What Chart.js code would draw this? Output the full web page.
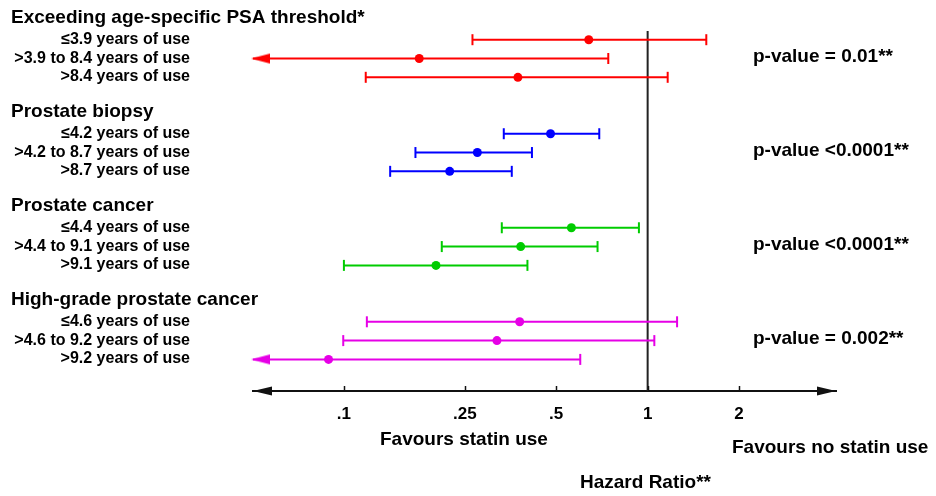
<!DOCTYPE html>
<html>
<head>
<meta charset="utf-8">
<script src="https://cdn.jsdelivr.net/npm/chart.js@4/dist/chart.umd.min.js"></script>
<style>
html, body { margin: 0; background: #fff; }
#wrap { width: 936px; height: 496px; }
</style>
</head>
<body>
<div id="wrap"><canvas id="forest"></canvas></div>
<script>
// groups, rows and values (hazard ratio, 95% CI)
const groups = ['Exceeding age-specific PSA threshold*', 'Prostate biopsy', 'Prostate cancer', 'High-grade prostate cancer'];
const rowLabels = [
    ['≤3.9 years of use', '>3.9 to 8.4 years of use', '>8.4 years of use'],
    ['≤4.2 years of use', '>4.2 to 8.7 years of use', '>8.7 years of use'],
    ['≤4.4 years of use', '>4.4 to 9.1 years of use', '>9.1 years of use'],
    ['≤4.6 years of use', '>4.6 to 9.2 years of use', '>9.2 years of use']
];
const hazardRatio = [[0.64, 0.177, 0.374], [0.479, 0.275, 0.223], [0.561, 0.382, 0.201], [0.379, 0.319, 0.089]];
// null = lower limit runs off the left end of the axis (drawn as an arrow)
const ciLower = [[0.265, null, 0.118], [0.336, 0.172, 0.142], [0.331, 0.21, 0.100], [0.119, 0.0995, null]];
const ciUpper = [[1.56, 0.742, 1.164], [0.693, 0.416, 0.357], [0.936, 0.684, 0.402], [1.25, 1.052, 0.60]];
const pValues = ['p-value = 0.01**', 'p-value <0.0001**', 'p-value <0.0001**', 'p-value = 0.002**'];
const colors = ['#ff0000', '#0000ff', '#00cc00', '#e600e6'];
const xTicks = [0.1, 0.25, 0.5, 1, 2];
const xTickLabels = ['.1', '.25', '.5', '1', '2'];

const X_MIN = 0.0502, X_MAX = 4.17;
const Y_MIN = -1.473, Y_MAX = 18.68;
const FONT = '"Liberation Sans", Arial, sans-serif';

const rowY = (g, r) => g * 5 + r;

function mkArrow(color) {
    // left-pointing arrow head, tip slightly left of the image centre
    const c = document.createElement('canvas');
    c.width = 44; c.height = 12;
    const ctx = c.getContext('2d');
    ctx.fillStyle = color;
    ctx.beginPath();
    ctx.moveTo(20, 6);
    ctx.lineTo(39, 1);
    ctx.lineTo(39, 11);
    ctx.closePath();
    ctx.fill();
    return c;
}

const datasets = [];
groups.forEach((_, g) => {
    const arrow = mkArrow(colors[g]);
    rowLabels[g].forEach((_, r) => {
        const y = rowY(g, r);
        const lo = ciLower[g][r];
        datasets.push({
            type: 'scatter', showLine: true,
            data: [{ x: lo === null ? X_MIN : lo, y }, { x: ciUpper[g][r], y }],
            borderColor: colors[g], borderWidth: 2,
            pointStyle: [lo === null ? arrow : 'line', 'line'],
            rotation: [lo === null ? 0 : 90, 90],
            pointRadius: 5.5, pointBorderWidth: 2,
            pointBorderColor: colors[g], pointBackgroundColor: colors[g],
            clip: false
        });
    });
    datasets.push({
        type: 'scatter',
        data: hazardRatio[g].map((v, r) => ({ x: v, y: rowY(g, r) })),
        pointStyle: 'circle', pointRadius: 4.5, pointBorderWidth: 0,
        backgroundColor: colors[g], borderColor: colors[g]
    });
});
// line of no effect
datasets.push({
    type: 'scatter', showLine: true,
    data: [{ x: 1, y: -0.46 }, { x: 1, y: Y_MAX }],
    borderColor: '#222', borderWidth: 2, pointRadius: 0
});

const textPlugin = {
    id: 'forestText',
    afterDraw(chart) {
        const ctx = chart.ctx, xs = chart.scales.x, ys = chart.scales.y, area = chart.chartArea;
        const axY = area.bottom;
        ctx.save();
        ctx.fillStyle = '#000';
        ctx.textBaseline = 'alphabetic';

        groups.forEach((name, g) => {
            ctx.font = 'bold 19px ' + FONT;
            ctx.textAlign = 'left';
            ctx.fillText(name, 11, ys.getPixelForValue(rowY(g, 0)) - 17);
            ctx.font = 'bold 16px ' + FONT;
            ctx.textAlign = 'right';
            rowLabels[g].forEach((lab, r) => ctx.fillText(lab, 190, ys.getPixelForValue(rowY(g, r)) + 4));
            ctx.font = 'bold 19px ' + FONT;
            ctx.textAlign = 'left';
            ctx.fillText(pValues[g], 753, ys.getPixelForValue(rowY(g, 1)) + 3.5);
        });

        // axis arrow heads and tick marks above the axis
        ctx.fillStyle = '#111';
        ctx.beginPath();
        ctx.moveTo(area.left, axY); ctx.lineTo(area.left + 19, axY - 4.5); ctx.lineTo(area.left + 19, axY + 4.5);
        ctx.closePath(); ctx.fill();
        ctx.beginPath();
        ctx.moveTo(area.right, axY); ctx.lineTo(area.right - 19, axY - 4.5); ctx.lineTo(area.right - 19, axY + 4.5);
        ctx.closePath(); ctx.fill();
        ctx.strokeStyle = '#111'; ctx.lineWidth = 1.5;
        xTicks.forEach(v => {
            const px = Math.round(xs.getPixelForValue(v)) + 0.5;
            ctx.beginPath(); ctx.moveTo(px, axY - 5); ctx.lineTo(px, axY); ctx.stroke();
        });

        ctx.fillStyle = '#000';
        ctx.font = 'bold 19px ' + FONT;
        ctx.textAlign = 'left';
        ctx.fillText('Favours statin use', 380, 445);
        ctx.fillText('Favours no statin use', 732, 453);
        ctx.fillText('Hazard Ratio**', 580, 487.5);
        ctx.restore();
    }
};

new Chart(document.getElementById('forest'), {
    type: 'scatter',
    data: { datasets },
    options: {
        responsive: true,
        maintainAspectRatio: false,
        animation: false,
        layout: { padding: { left: 253, right: 100, top: 12, bottom: 0 } },
        plugins: { legend: { display: false }, tooltip: { enabled: false } },
        scales: {
            x: {
                type: 'logarithmic', min: X_MIN, max: X_MAX, position: 'bottom',
                afterBuildTicks: s => { s.ticks = xTicks.map(v => ({ value: v })); },
                afterFit: s => { s.height = 105; },
                ticks: {
                    autoSkip: false, maxRotation: 0, padding: 13, color: '#000',
                    font: { family: FONT, size: 17, weight: 'bold' },
                    callback: v => xTickLabels[xTicks.indexOf(v)]
                },
                grid: { display: false, drawTicks: false },
                border: { display: true, color: '#111', width: 2 }
            },
            y: { type: 'linear', reverse: true, min: Y_MIN, max: Y_MAX, display: false }
        }
    },
    plugins: [textPlugin]
});
</script>
</body>
</html>
